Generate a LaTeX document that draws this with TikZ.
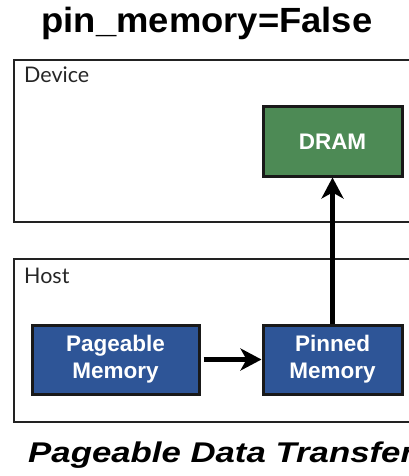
\documentclass[tikz,border=0pt]{standalone}
\usepackage{fontspec}
\setmainfont{Liberation Sans}
\newfontfamily\labelfont{Lato}
\usetikzlibrary{arrows.meta}
\definecolor{dramgreen}{HTML}{4D8A55}
\definecolor{memblue}{HTML}{2E5597}
\definecolor{framegray}{HTML}{222222}
\tikzset{
  region/.style={draw=framegray, line width=2.6pt},
  regionlabel/.style={anchor=base west, inner sep=0pt, font=\labelfont\fontsize{21.5}{24}\selectfont, text=black!85},
  membox/.style={draw=black!90, line width=3pt, fill=memblue, text=white, align=center,
    font=\bfseries\fontsize{22.5}{27}\selectfont, inner sep=0pt},
  flow/.style={line width=5pt, -{Stealth[length=21pt,width=22pt,inset=6pt]}}
}
\begin{document}
\begin{tikzpicture}[x=1pt,y=-1pt]
\useasboundingbox (0,0) rectangle (409,476);
% title
\node[anchor=base, inner sep=0pt, xscale=1.04, font=\bfseries\fontsize{35}{40}\selectfont] (title) at (207,33) {pin\_memory=False};
% device and host regions
\draw[region] (420,60) -- (14,60) -- (14,222) -- (420,222);
\draw[region] (420,259) -- (14,259) -- (14,422) -- (420,422);
\node[regionlabel] (devlabel) at (24,83) {Device};
\node[regionlabel] (hostlabel) at (24,283) {Host};
% memories
\node[membox, fill=dramgreen, minimum width=139pt, minimum height=69pt] (dram) at (332.5,141.5) {DRAM};
\node[membox, minimum width=167pt, minimum height=69pt] (pageable) at (115.5,359.5) {Pageable\\Memory};
\node[membox, minimum width=139pt, minimum height=69pt] (pinned) at (332.5,359.5) {Pinned\\Memory};
% transfers
\draw[flow] (pageable.east) ++(3pt,0) coordinate (pgout) (pgout) -- (pinned.west);
\draw[flow] (pinned.north) -- (dram.south);
% caption
\node[anchor=base west, inner sep=0pt, xscale=1.22, font=\bfseries\itshape\fontsize{28.5}{32}\selectfont] (caption) at (28,462) {Pageable Data Transfer};
\end{tikzpicture}
\end{document}
